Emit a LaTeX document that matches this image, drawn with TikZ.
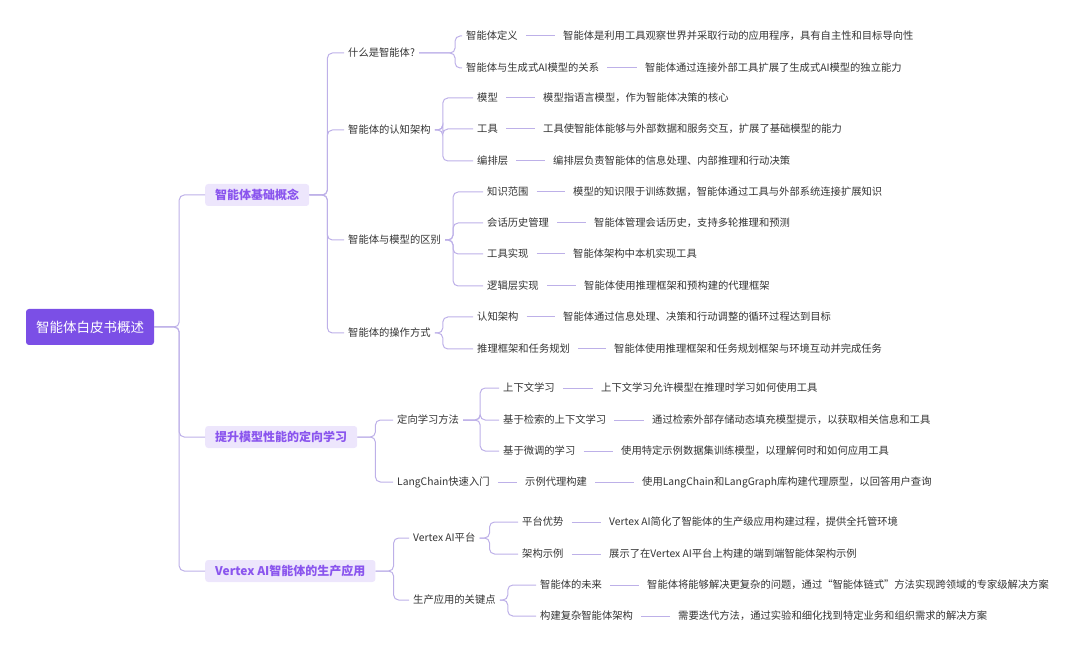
\documentclass[tikz,border=0pt]{standalone}
\usepackage{fontspec}
\setmainfont{Noto Sans CJK SC}
\usetikzlibrary{positioning}
\definecolor{rootpurple}{HTML}{7B4FE6}
\definecolor{lvlfill}{HTML}{EDE6FC}
\definecolor{lvltext}{HTML}{8A55EE}
\definecolor{linecol}{HTML}{BDB0E8}
\definecolor{txt}{HTML}{333333}
\tikzset{
  rootnode/.style={
    rectangle, rounded corners=3pt,
    fill=rootpurple, text=white,
    font=\fontsize{13.5}{15}\selectfont,
    minimum height=36pt, inner xsep=10pt},
  topic/.style={
    rectangle, rounded corners=3pt,
    fill=lvlfill, text=lvltext,
    font=\fontsize{12}{14}\selectfont\bfseries,
    minimum height=22pt, inner xsep=10pt, anchor=west},
  item/.style={
    text=txt, font=\fontsize{10.3}{12}\selectfont,
    inner xsep=4pt, anchor=west},
  conn/.style={draw=linecol, line width=1pt, rounded corners=5pt},
  leafline/.style={draw=linecol, line width=1pt, shorten <=4pt, shorten >=4pt}
}
\newcommand{\branch}[3]{\draw[conn] (#1.east) -- ++(#2,0) |- (#3.west);}
\newcommand{\leafto}[2]{\draw[leafline] (#1.east) -- (#2.west);}
\begin{document}
\begin{tikzpicture}[x=1pt,y=-1pt]
  \useasboundingbox (0,0) rectangle (1080,655);
  % root and main topics
  \node[rootnode] (root) at (90,327) {智能体白皮书概述};
  \node[topic] (basic) at (205,195) {智能体基础概念};
  \node[topic] (learn) at (205,437) {提升模型性能的定向学习};
  \node[topic] (vertex) at (205,571) {Vertex AI智能体的生产应用};
  \foreach \t in {basic,learn,vertex} {\branch{root}{25}{\t}}

  % 智能体基础概念
  \node[item] (what) at (344,53) {什么是智能体?};
  \node[item] (arch) at (344,130) {智能体的认知架构};
  \node[item] (diff) at (344,240) {智能体与模型的区别};
  \node[item] (oper) at (344,333) {智能体的操作方式};
  \foreach \t in {what,arch,diff,oper} {\branch{basic}{18}{\t}}

  \node[item] (def) at (462,36) {智能体定义};
  \node[item] (rel) at (462,68) {智能体与生成式AI模型的关系};
  \foreach \t in {def,rel} {\branch{what}{36}{\t}}
  \node[item] (defL) at (559,36) {智能体是利用工具观察世界并采取行动的应用程序，具有自主性和目标导向性};
  \node[item] (relL) at (641,68) {智能体通过连接外部工具扩展了生成式AI模型的独立能力};
  \leafto{def}{defL} \leafto{rel}{relL}

  \node[item] (model) at (473,98) {模型};
  \node[item] (tool) at (473,129) {工具};
  \node[item] (orch) at (473,161) {编排层};
  \foreach \t in {model,tool,orch} {\branch{arch}{8}{\t}}
  \node[item] (modelL) at (539,98) {模型指语言模型，作为智能体决策的核心};
  \node[item] (toolL) at (539,129) {工具使智能体能够与外部数据和服务交互，扩展了基础模型的能力};
  \node[item] (orchL) at (549,161) {编排层负责智能体的信息处理、内部推理和行动决策};
  \leafto{model}{modelL} \leafto{tool}{toolL} \leafto{orch}{orchL}

  \node[item] (know) at (483,192) {知识范围};
  \node[item] (hist) at (483,223) {会话历史管理};
  \node[item] (impl) at (483,254) {工具实现};
  \node[item] (logic) at (483,286) {逻辑层实现};
  \foreach \t in {know,hist,impl,logic} {\branch{diff}{8}{\t}}
  \node[item] (knowL) at (569,192) {模型的知识限于训练数据，智能体通过工具与外部系统连接扩展知识};
  \node[item] (histL) at (590,223) {智能体管理会话历史，支持多轮推理和预测};
  \node[item] (implL) at (569,254) {智能体架构中本机实现工具};
  \node[item] (logicL) at (580,286) {智能体使用推理框架和预构建的代理框架};
  \leafto{know}{knowL} \leafto{hist}{histL} \leafto{impl}{implL} \leafto{logic}{logicL}

  \node[item] (cog) at (473,317) {认知架构};
  \node[item] (plan) at (473,349) {推理框架和任务规划};
  \foreach \t in {cog,plan} {\branch{oper}{8}{\t}}
  \node[item] (cogL) at (559,317) {智能体通过信息处理、决策和行动调整的循环过程达到目标};
  \node[item] (planL) at (610,349) {智能体使用推理框架和任务规划框架与环境互动并完成任务};
  \leafto{cog}{cogL} \leafto{plan}{planL}

  % 提升模型性能的定向学习
  \node[item] (method) at (393,420) {定向学习方法};
  \node[item] (lang) at (393,482) {LangChain快速入门};
  \foreach \t in {method,lang} {\branch{learn}{18}{\t}}
  \node[item] (ctx) at (499,388) {上下文学习};
  \node[item] (rag) at (499,420) {基于检索的上下文学习};
  \node[item] (tune) at (499,451) {基于微调的学习};
  \foreach \t in {ctx,rag,tune} {\branch{method}{17}{\t}}
  \node[item] (ctxL) at (597,388) {上下文学习允许模型在推理时学习如何使用工具};
  \node[item] (ragL) at (648,420) {通过检索外部存储动态填充模型提示，以获取相关信息和工具};
  \node[item] (tuneL) at (617,451) {使用特定示例数据集训练模型，以理解何时和如何应用工具};
  \leafto{ctx}{ctxL} \leafto{rag}{ragL} \leafto{tune}{tuneL}
  \node[item] (demo) at (521,482) {示例代理构建};
  \leafto{lang}{demo}
  \node[item] (demoL) at (638,482) {使用LangChain和LangGraph库构建代理原型，以回答用户查询};
  \leafto{demo}{demoL}

  % Vertex AI智能体的生产应用
  \node[item] (plat) at (409,538) {Vertex AI平台};
  \node[item] (key) at (409,600) {生产应用的关键点};
  \foreach \t in {plat,key} {\branch{vertex}{18}{\t}}
  \node[item] (adv) at (518,522) {平台优势};
  \node[item] (exa) at (518,554) {架构示例};
  \foreach \t in {adv,exa} {\branch{plat}{10}{\t}}
  \node[item] (advL) at (605,522) {Vertex AI简化了智能体的生产级应用构建过程，提供全托管环境};
  \node[item] (exaL) at (605,554) {展示了在Vertex AI平台上构建的端到端智能体架构示例};
  \leafto{adv}{advL} \leafto{exa}{exaL}
  \node[item] (future) at (536,585) {智能体的未来};
  \node[item] (build) at (536,616) {构建复杂智能体架构};
  \foreach \t in {future,build} {\branch{key}{8}{\t}}
  \node[item] (futureL) at (643,585) {智能体将能够解决更复杂的问题，通过“智能体链式”方法实现跨领域的专家级解决方案};
  \node[item] (buildL) at (674,616) {需要迭代方法，通过实验和细化找到特定业务和组织需求的解决方案};
  \leafto{future}{futureL} \leafto{build}{buildL}
\end{tikzpicture}
\end{document}
